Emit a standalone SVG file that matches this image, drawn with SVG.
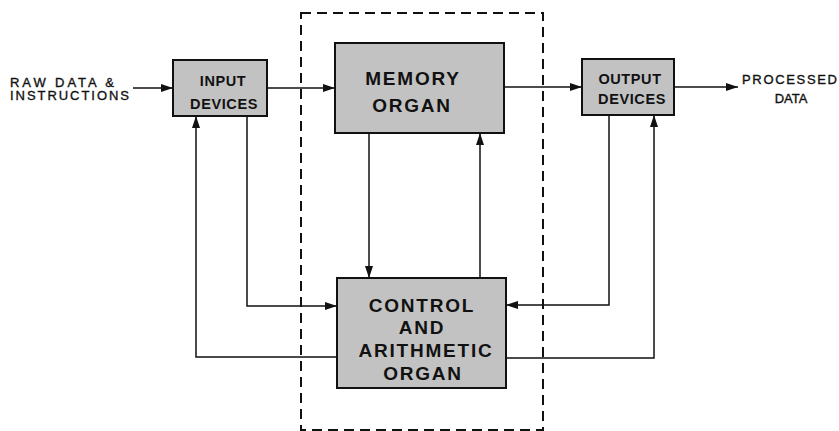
<svg xmlns="http://www.w3.org/2000/svg" width="839" height="431" viewBox="0 0 839 431">
<style>
.box{fill:#c2c2c2;stroke:#111;stroke-width:2}
.lbl{font-family:"Liberation Sans",Arial,sans-serif;font-weight:bold;fill:#111;text-anchor:middle}
.sm{font-size:14.5px;letter-spacing:0.6px}
.lg{font-size:19px;letter-spacing:1.8px}
.ext{font-family:"Liberation Sans",Arial,sans-serif;font-size:13px;fill:#111;stroke:#111;stroke-width:0.35}
.wire{fill:none;stroke:#111;stroke-width:1.5}
</style>
<defs>
<marker id="ah" viewBox="0 0 12 8" refX="12" refY="4" markerWidth="12" markerHeight="8" markerUnits="userSpaceOnUse" orient="auto">
<path d="M0,0 L12,4 L0,8 Z" fill="#111"/>
</marker>
</defs>
<rect x="301" y="13" width="242" height="417" fill="none" stroke="#111" stroke-width="2" stroke-dasharray="10,6"/>
<g id="connectors">
<line class="wire" x1="133" y1="88" x2="173" y2="88" marker-end="url(#ah)"/>
<line class="wire" x1="267" y1="88" x2="335" y2="88" marker-end="url(#ah)"/>
<line class="wire" x1="504" y1="87" x2="582" y2="87" marker-end="url(#ah)"/>
<line class="wire" x1="674" y1="87" x2="738" y2="87" marker-end="url(#ah)"/>
<line class="wire" x1="369" y1="133" x2="369" y2="278" marker-end="url(#ah)"/>
<line class="wire" x1="480" y1="278" x2="480" y2="133" marker-end="url(#ah)"/>
<polyline class="wire" points="247,116 247,306 337,306" marker-end="url(#ah)"/>
<polyline class="wire" points="337,357 196,357 196,116" marker-end="url(#ah)"/>
<polyline class="wire" points="609,115 609,305 506,305" marker-end="url(#ah)"/>
<polyline class="wire" points="506,358 654,358 654,115" marker-end="url(#ah)"/>
</g>
<g id="raw-data"><text class="ext" x="10" y="86.5" textLength="104" lengthAdjust="spacing">RAW DATA &amp;</text><text class="ext" x="10" y="100" textLength="119" lengthAdjust="spacing">INSTRUCTIONS</text></g>
<g id="processed-data"><text class="ext" x="742" y="84" textLength="95" lengthAdjust="spacing">PROCESSED</text><text class="ext" x="791" y="103" text-anchor="middle">DATA</text></g>
<g id="input-devices">
<rect class="box" x="173" y="60" width="94" height="56"/>
<text class="lbl sm" x="223" y="86">INPUT</text>
<text class="lbl sm" x="224" y="109">DEVICES</text>
</g>
<g id="memory-organ">
<rect class="box" x="335" y="43" width="169" height="90"/>
<text class="lbl lg" x="413" y="85">MEMORY</text>
<text class="lbl lg" x="412" y="112">ORGAN</text>
</g>
<g id="output-devices">
<rect class="box" x="582" y="59" width="92" height="56"/>
<text class="lbl sm" x="630" y="84">OUTPUT</text>
<text class="lbl sm" x="632" y="104">DEVICES</text>
</g>
<g id="control-arithmetic-organ">
<rect class="box" x="337" y="278" width="169" height="110"/>
<text class="lbl lg" x="422" y="312">CONTROL</text>
<text class="lbl lg" x="422" y="334">AND</text>
<text class="lbl lg" x="426" y="357">ARITHMETIC</text>
<text class="lbl lg" x="423" y="380">ORGAN</text>
</g>
</svg>
